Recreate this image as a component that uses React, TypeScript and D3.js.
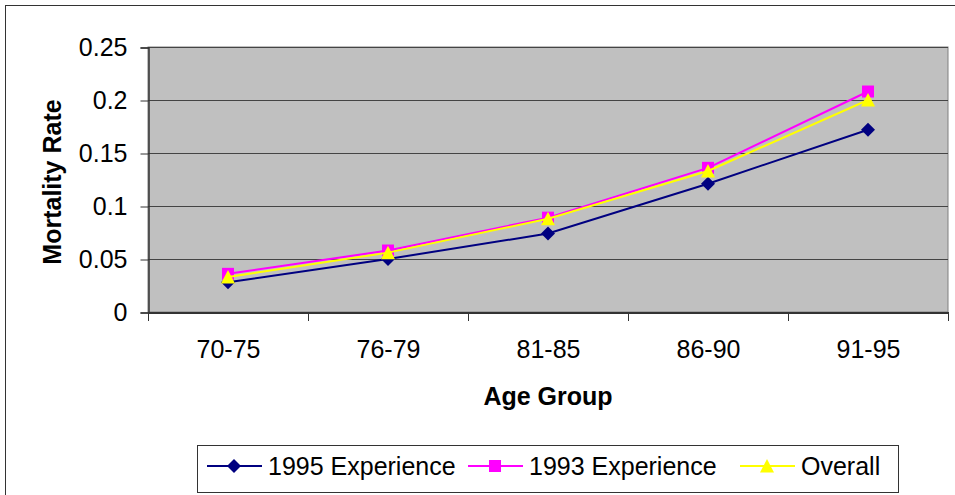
import React, { useRef, useEffect } from "react";
import * as d3 from "d3";

const ageGroups = ["70-75", "76-79", "81-85", "86-90", "91-95"];
const exp1995 = [0.028, 0.05, 0.074, 0.121, 0.172];
const exp1993 = [0.036, 0.058, 0.089, 0.136, 0.208];
const overall = [0.033, 0.056, 0.088, 0.133, 0.2];
const yTicks = [0, 0.05, 0.1, 0.15, 0.2, 0.25];

const seriesNames = ["1995 Experience", "1993 Experience", "Overall"];
const seriesColors = ["#000080", "#FF00FF", "#FFFF00"];
// marker outlines: diamond, square, triangle
const seriesMarkers = [
  "M0,-7L7,0L0,7L-7,0Z",
  "M-6,-6H6V6H-6Z",
  "M0,-7L7,6.5L-7,6.5Z",
];

const App = () => {
  const svgRef = useRef<SVGSVGElement>(null);

  useEffect(() => {
    const svg = d3.select(svgRef.current);
    svg.selectAll("*").remove();

    const width = 955;
    const height = 495;
    const margin = { top: 47, right: 7, bottom: 183, left: 148 };
    const font = "'Liberation Sans', Arial, sans-serif";

    // outer frame (right/bottom edges fall outside the picture)
    svg
      .append("rect")
      .attr("x", 5.5)
      .attr("y", 5.5)
      .attr("width", width + 10)
      .attr("height", height + 10)
      .attr("fill", "white")
      .attr("stroke", "#333")
      .attr("stroke-width", 1);

    const x = d3
      .scaleBand()
      .domain(ageGroups)
      .range([margin.left, width - margin.right]);

    const y = d3
      .scaleLinear()
      .domain([0, 0.25])
      .range([height - margin.bottom, margin.top]);

    const y0 = y(0);

    // plot area
    svg
      .append("rect")
      .attr("x", margin.left)
      .attr("y", margin.top)
      .attr("width", x.range()[1] - margin.left)
      .attr("height", y0 - margin.top)
      .attr("fill", "#C0C0C0")
      .attr("stroke", "#808080");

    // gridlines
    svg
      .append("g")
      .selectAll("line")
      .data(yTicks.slice(1))
      .join("line")
      .attr("x1", margin.left)
      .attr("x2", x.range()[1])
      .attr("y1", (d) => Math.round(y(d)) + 0.5)
      .attr("y2", (d) => Math.round(y(d)) + 0.5)
      .attr("stroke", "#444")
      .attr("stroke-width", 1);

    // y axis
    const yAxis = svg
      .append("g")
      .attr("transform", `translate(${margin.left + 0.5}, 0.5)`)
      .call(
        d3
          .axisLeft(y)
          .tickValues(yTicks)
          .tickFormat((d) => String(+d))
          .tickSize(8)
          .tickPadding(13)
      );
    yAxis.select(".domain").attr("stroke", "#333").attr("stroke-width", 1.5);
    yAxis.selectAll(".tick line").attr("stroke", "#333");
    yAxis
      .selectAll("text")
      .attr("font-family", font)
      .attr("font-size", 25)
      .attr("fill", "black");

    // x axis
    const xAxis = svg
      .append("g")
      .attr("transform", `translate(0.5, ${Math.round(y0) + 0.5})`)
      .call(d3.axisBottom(x).tickSize(0).tickPadding(28));
    xAxis.select(".domain").attr("stroke", "#333").attr("stroke-width", 2);
    xAxis
      .selectAll("text")
      .attr("font-family", font)
      .attr("font-size", 25)
      .attr("fill", "black");

    // x boundary ticks
    const bounds = ageGroups.map((g) => x(g) as number).concat([x.range()[1]]);
    svg
      .append("g")
      .selectAll("line")
      .data(bounds)
      .join("line")
      .attr("x1", (d) => Math.round(d) + 0.5)
      .attr("x2", (d) => Math.round(d) + 0.5)
      .attr("y1", y0)
      .attr("y2", y0 + 9)
      .attr("stroke", "#333");

    // axis titles
    svg
      .append("text")
      .attr("transform", `translate(61, ${(97 + 267) / 2}) rotate(-90)`)
      .attr("text-anchor", "middle")
      .attr("font-family", font)
      .attr("font-size", 25)
      .attr("font-weight", "bold")
      .text("Mortality Rate");

    svg
      .append("text")
      .attr("x", (margin.left + x.range()[1]) / 2)
      .attr("y", 405)
      .attr("text-anchor", "middle")
      .attr("font-family", font)
      .attr("font-size", 25)
      .attr("font-weight", "bold")
      .text("Age Group");

    const cx = (d: string) => (x(d) as number) + x.bandwidth() / 2;
    const allSeries = [exp1995, exp1993, overall];

    const line = d3
      .line<number>()
      .x((_, i) => cx(ageGroups[i]))
      .y((d) => y(d));

    allSeries.forEach((vals, si) => {
      const g = svg.append("g");
      g.append("path")
        .datum(vals)
        .attr("d", line)
        .attr("fill", "none")
        .attr("stroke", seriesColors[si])
        .attr("stroke-width", 2);
      g.selectAll("path.m")
        .data(vals)
        .join("path")
        .attr("class", "m")
        .attr("transform", (d, i) => `translate(${cx(ageGroups[i])}, ${y(d)})`)
        .attr("d", seriesMarkers[si])
        .attr("fill", seriesColors[si]);
    });

    // legend
    const legend = svg.append("g");
    legend
      .append("rect")
      .attr("x", 197.5)
      .attr("y", 445.5)
      .attr("width", 701)
      .attr("height", 47)
      .attr("fill", "white")
      .attr("stroke", "#333");

    const legendX = [207, 468, 740];
    seriesNames.forEach((name, i) => {
      const lg = legend.append("g").attr("transform", `translate(${legendX[i]}, 466)`);
      lg.append("line")
        .attr("x1", 0)
        .attr("x2", 55)
        .attr("y1", 0)
        .attr("y2", 0)
        .attr("stroke", seriesColors[i])
        .attr("stroke-width", 2);
      lg.append("path")
        .attr("transform", "translate(27, 0)")
        .attr("d", seriesMarkers[i])
        .attr("fill", seriesColors[i]);
      lg.append("text")
        .attr("x", 61)
        .attr("y", 9)
        .attr("font-family", font)
        .attr("font-size", 25)
        .text(name);
    });
  }, []);

  return <svg ref={svgRef} width={955} height={495} style={{ display: "block", position: "absolute", left: 0, top: 0 }}></svg>;
};

export default App;
